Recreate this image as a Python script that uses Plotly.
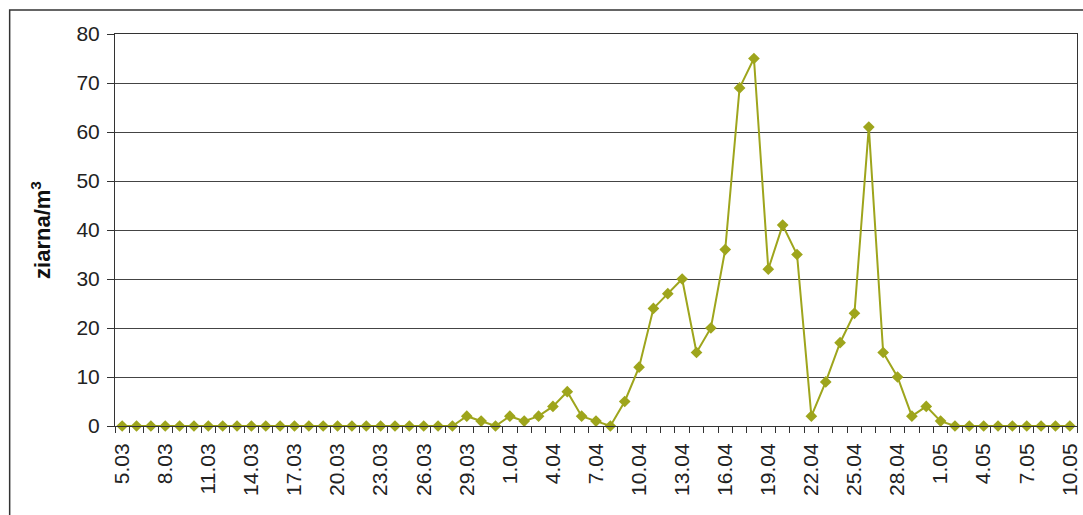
import plotly.graph_objects as go

dates = (
    [f"{d}.03" for d in range(5, 32)]
    + [f"{d}.04" for d in range(1, 31)]
    + [f"{d}.05" for d in range(1, 11)]
)

values = [
    # 5.03 - 28.03
    0, 0, 0, 0, 0, 0, 0, 0, 0, 0, 0, 0, 0, 0, 0, 0, 0, 0, 0, 0, 0, 0, 0, 0,
    # 29.03 - 31.03
    2, 1, 0,
    # 1.04 - 30.04
    2, 1, 2, 4, 7, 2, 1, 0, 5, 12, 24, 27, 30, 15, 20, 36, 69, 75, 32, 41,
    35, 2, 9, 17, 23, 61, 15, 10, 2, 4,
    # 1.05 - 10.05
    1, 0, 0, 0, 0, 0, 0, 0, 0, 0,
]

y_title = "ziarna/m<sup>3</sup>"

idx = list(range(len(dates)))
label_step = 3

fig = go.Figure()
fig.add_trace(go.Scatter(
    x=idx, y=values, mode="lines+markers",
    line=dict(color="#9EA51C", width=2),
    marker=dict(symbol="diamond", size=9, color="#9EA51C"),
    hoverinfo="skip",
    cliponaxis=False,
))

FONT = "Liberation Sans, Arial, sans-serif"

fig.update_layout(
    width=1083, height=515,
    margin=dict(l=115, r=2, t=34, b=89),
    paper_bgcolor="white", plot_bgcolor="white",
    showlegend=False,
    font=dict(family=FONT, size=21, color="#222"),
    shapes=[dict(
        type="rect", xref="paper", yref="paper",
        x0=-0.1095, x1=1.02, y0=-0.4, y1=1.061,
        line=dict(color="#333", width=1.5), fillcolor="rgba(0,0,0,0)",
        layer="below",
    )],
)

fig.update_xaxes(
    range=[-0.5, len(dates) - 0.5],
    tickmode="array", tickvals=idx[::label_step], ticktext=dates[::label_step],
    tickangle=-90, ticks="", ticklen=0,
    tickfont=dict(family=FONT, size=21, color="#222"),
    ticklabeloverflow="allow", ticklabelstandoff=8,
    showgrid=False, zeroline=False,
    showline=True, linecolor="#333", linewidth=1, mirror=True,
    minor=dict(tickmode="linear", tick0=-0.5, dtick=1, ticks="outside",
               ticklen=6, tickcolor="#333", tickwidth=1, showgrid=False),
    fixedrange=True,
)

fig.update_yaxes(
    range=[0, 80], dtick=10, tick0=0,
    ticks="outside", ticklen=7, tickcolor="#333", tickwidth=1,
    tickfont=dict(family=FONT, size=21, color="#222"),
    ticklabelstandoff=3,
    showgrid=True, gridcolor="#444", gridwidth=1,
    zeroline=False,
    showline=True, linecolor="#333", linewidth=1, mirror=True,
    title=dict(text=y_title, font=dict(family=FONT, size=22, color="#111", weight="bold"), standoff=19),
    fixedrange=True,
)

fig.write_html(
    "out.html",
    config={"displayModeBar": False},
    post_script="document.body.style.margin='0';document.body.style.overflow='hidden';",
)
